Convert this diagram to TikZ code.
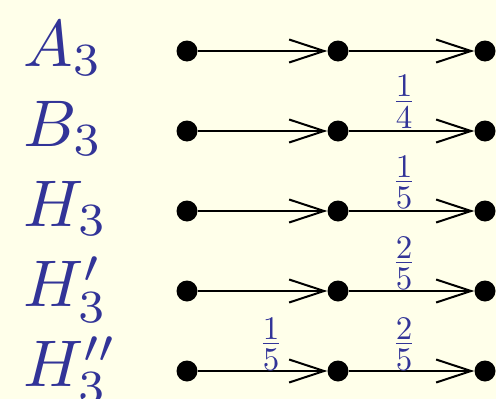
\documentclass[tikz,border=0pt]{standalone}
\usetikzlibrary{arrows.meta}
\definecolor{bgyellow}{RGB}{255,255,234}
\definecolor{labblue}{RGB}{50,52,152}
\newcommand{\myfrac}[2]{\vbox{\offinterlineskip\halign{\hfil##\hfil\cr\vphantom{0}#1\cr\noalign{\kern0.9pt\hrule height0.4pt\kern1.2pt}\vphantom{0}#2\cr}}}
\tikzset{
  dot/.style={circle,fill=black,inner sep=0pt,minimum size=21pt},
  grouplabel/.style={anchor=base west,inner sep=0pt,text=labblue,scale=6.6},
  fraclabel/.style={inner sep=0pt,text=labblue,scale=3.3},
  edge/.style={line width=2pt,-{Straight Barb[length=35pt,width=23pt]}}
}
\begin{document}
\begin{tikzpicture}[x=1pt,y=-1pt]
\fill[bgyellow] (0,0) rectangle (496,399);
\useasboundingbox (0,0) rectangle (496,399);
\foreach \r/\yy/\lab in {a/51/{A_3},b/131/{B_3},c/211/{H_3},d/291/{H'_3},e/371/{H''_3}}{
  \node[grouplabel] (lab\r) at (22,\yy+15) {$\lab$};
  \node[dot] (\r1) at (187,\yy) {};
  \node[dot] (\r2) at (338,\yy) {};
  \node[dot] (\r3) at (485,\yy) {};
  \draw[edge] (\r1) -- (\r2);
  \draw[edge] (\r2) -- (\r3);
}
\node[fraclabel] (fb) at (404,102) {\myfrac{1}{4}};
\node[fraclabel] (fc) at (404,182) {\myfrac{1}{5}};
\node[fraclabel] (fd) at (404,263) {\myfrac{2}{5}};
\node[fraclabel] (fe1) at (271,344) {\myfrac{1}{5}};
\node[fraclabel] (fe2) at (404,344) {\myfrac{2}{5}};
\end{tikzpicture}
\end{document}
